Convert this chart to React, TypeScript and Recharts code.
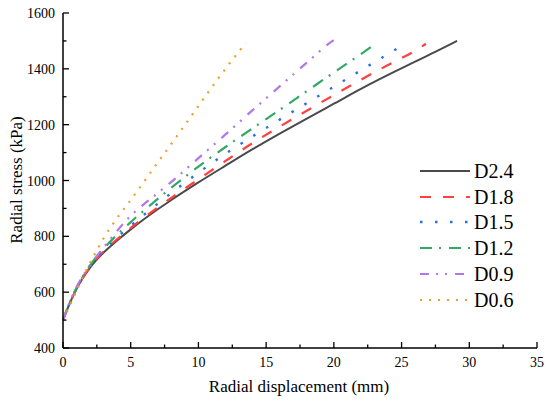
import React from "react";
import { LineChart, Line, XAxis, YAxis, Legend, Label } from "recharts";

// radial displacement (mm) / radial stress (kPa)
const d24X = [0, 0.5, 1, 2, 3, 4, 5, 6, 8, 10, 12, 14, 16, 18, 20, 22, 24, 26, 28, 29.1];
const d24Y = [500, 560, 612, 688, 742, 785, 825, 862, 930, 993, 1053, 1112, 1168, 1222, 1275, 1328, 1378, 1426, 1473, 1500];

const d18X = [0, 0.5, 1, 2, 3, 4, 5, 6, 8, 10, 12, 14, 16, 18, 20, 22, 24, 26, 26.8];
const d18Y = [500, 560, 612, 690, 746, 790, 830, 868, 938, 1004, 1070, 1134, 1193, 1250, 1306, 1361, 1414, 1465, 1490];

const d15X = [0, 0.5, 1, 2, 3, 4, 5, 6, 8, 10, 12, 14, 16, 18, 20, 22, 24, 25.4];
const d15Y = [500, 562, 614, 692, 750, 796, 838, 878, 955, 1028, 1096, 1158, 1218, 1277, 1336, 1395, 1453, 1494];

const d12X = [0, 0.5, 1, 2, 3, 4, 5, 6, 8, 10, 12, 14, 16, 18, 20, 22, 23];
const d12Y = [500, 563, 616, 696, 756, 806, 851, 893, 974, 1050, 1120, 1187, 1253, 1320, 1387, 1453, 1487];

const d09X = [0, 0.5, 1, 2, 3, 4, 5, 6, 7, 8, 10, 12, 14, 16, 18, 20, 20.3];
const d09Y = [500, 565, 618, 698, 760, 820, 874, 916, 955, 995, 1080, 1165, 1252, 1337, 1422, 1503, 1512];

const d06X = [0, 0.5, 1, 1.5, 2, 2.5, 3, 4, 5, 6, 7, 8, 9, 10, 11, 12, 13, 13.5];
const d06Y = [500, 552, 605, 657, 705, 750, 793, 866, 930, 997, 1065, 1131, 1199, 1267, 1335, 1400, 1463, 1493];

const xTicks = [0, 2.5, 5, 7.5, 10, 12.5, 15, 17.5, 20, 22.5, 25, 27.5, 30, 32.5, 35];
const yTicks = [400, 500, 600, 700, 800, 900, 1000, 1100, 1200, 1300, 1400, 1500, 1600];

const toPoints = (xs: number[], ys: number[]) => xs.map((x, i) => ({ x, y: ys[i] }));

const series = [
  { name: "D2.4", data: toPoints(d24X, d24Y), color: "#4a4a4a", dash: undefined, width: 2 },
  { name: "D1.8", data: toPoints(d18X, d18Y), color: "#ff4040", dash: "11 12", width: 2.2 },
  { name: "D1.5", data: toPoints(d15X, d15Y), color: "#2a6fe0", dash: "2.5 12.5", width: 2.4 },
  { name: "D1.2", data: toPoints(d12X, d12Y), color: "#33a865", dash: "12 7 2 8", width: 2.2 },
  { name: "D0.9", data: toPoints(d09X, d09Y), color: "#b277e8", dash: "9 7 2 7 2 8", width: 2.2 },
  { name: "D0.6", data: toPoints(d06X, d06Y), color: "#e6a228", dash: "2 7", width: 2.2 },
];

const FONT = "Liberation Serif, Times New Roman, DejaVu Serif, serif";

function XTick({ x, y, payload }: any) {
  const major = payload.value % 5 === 0;
  return (
    <g>
      <line x1={x} x2={x} y1={y} y2={y - (major ? 6 : 3.5)} stroke="#000" strokeWidth={1.3} />
      {major && (
        <text x={x} y={y + 18.5} textAnchor="middle" fontSize={14} style={{ fontFamily: FONT }} fill="#000">
          {payload.value}
        </text>
      )}
    </g>
  );
}

function YTick({ x, y, payload }: any) {
  const major = payload.value % 200 === 0;
  return (
    <g>
      <line x1={x} x2={x + (major ? 6 : 3.5)} y1={y} y2={y} stroke="#000" strokeWidth={1.3} />
      {major && (
        <text x={x - 8} y={y + 5} textAnchor="end" fontSize={14} style={{ fontFamily: FONT }} fill="#000">
          {payload.value}
        </text>
      )}
    </g>
  );
}

function LegendBox() {
  return (
    <div>
      {series.map((s) => (
        <div key={s.name} style={{ display: "flex", alignItems: "center", height: 25.8 }}>
          <svg width={53} height={10}>
            <line x1={2} x2={52} y1={5} y2={5} stroke={s.color} strokeWidth={s.width} strokeDasharray={s.dash} />
          </svg>
          <span style={{ marginLeft: 3, fontSize: 20, fontFamily: FONT, color: "#000", lineHeight: "20px" }}>
            {s.name}
          </span>
        </div>
      ))}
    </div>
  );
}

export default function App() {
  return (
    <div style={{ position: "absolute", left: 0, top: 0, background: "#fff", fontFamily: FONT }}>
      <LineChart width={550} height={403} margin={{ top: 13, right: 13, bottom: 0, left: 0 }} style={{ fontFamily: FONT }}>
        <XAxis
          dataKey="x"
          type="number"
          domain={[0, 35]}
          ticks={xTicks}
          interval={0}
          allowDuplicatedCategory={false}
          height={55}
          tickSize={0}
          tickMargin={0}
          tickLine={false}
          tick={<XTick />}
          axisLine={{ stroke: "#000", strokeWidth: 1.5 }}
        >
          <Label
            content={() => (
              <text x={299} y={392} textAnchor="middle" fontSize={17} style={{ fontFamily: FONT }} fill="#000">
                Radial displacement (mm)
              </text>
            )}
          />
        </XAxis>
        <XAxis
          xAxisId="top"
          orientation="top"
          type="number"
          domain={[0, 35]}
          height={0}
          tick={false}
          tickLine={false}
          axisLine={{ stroke: "#000", strokeWidth: 1.5 }}
        />
        <YAxis
          type="number"
          domain={[400, 1600]}
          ticks={yTicks}
          interval={0}
          width={63}
          tickSize={0}
          tickMargin={0}
          tickLine={false}
          tick={<YTick />}
          axisLine={{ stroke: "#000", strokeWidth: 1.5 }}
        >
          <Label
            content={() => (
              <text
                x={16}
                y={180}
                transform="rotate(-90 16 180)"
                textAnchor="middle"
                dominantBaseline="central"
                fontSize={17}
                style={{ fontFamily: FONT }}
                fill="#000"
              >
                Radial stress (kPa)
              </text>
            )}
          />
        </YAxis>
        <YAxis
          yAxisId="right"
          orientation="right"
          type="number"
          domain={[400, 1600]}
          width={0}
          tick={false}
          tickLine={false}
          axisLine={{ stroke: "#000", strokeWidth: 1.5 }}
        />
        {series.map((s) => (
          <Line
            key={s.name}
            data={s.data}
            dataKey="y"
            name={s.name}
            type="monotone"
            stroke={s.color}
            strokeWidth={s.width}
            strokeDasharray={s.dash}
            dot={false}
            activeDot={false}
            isAnimationActive={false}
          />
        ))}
        <Legend
          layout="vertical"
          align="center"
          verticalAlign="middle"
          content={<LegendBox />}
          wrapperStyle={{ left: 418, top: 158, width: "auto" }}
        />
      </LineChart>
    </div>
  );
}
